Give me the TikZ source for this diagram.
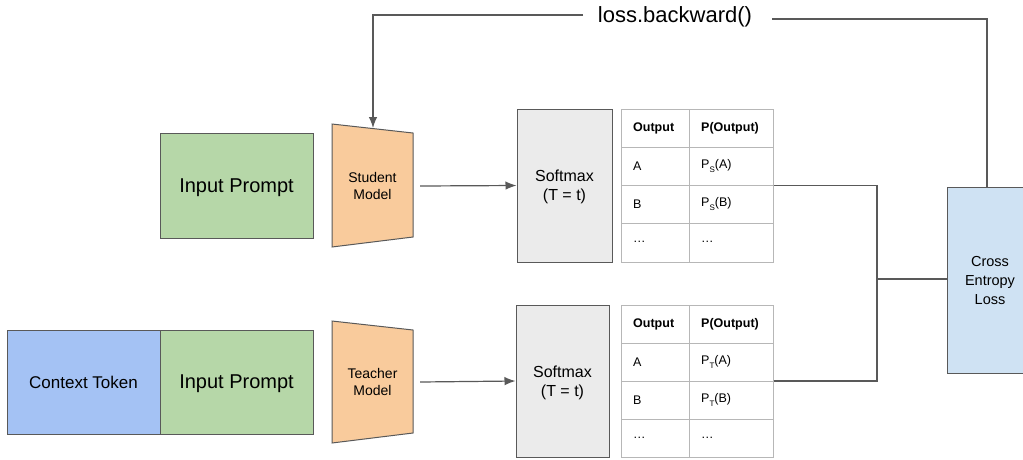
\documentclass[tikz,border=0pt]{standalone}
\usepackage{fontspec}
\setmainfont{Liberation Sans}
\usetikzlibrary{arrows.meta}
\definecolor{ipgreen}{HTML}{B6D7A8}
\definecolor{ctxblue}{HTML}{A4C2F4}
\definecolor{modorange}{HTML}{F9CB9C}
\definecolor{smgray}{HTML}{EBEBEB}
\definecolor{ceblue}{HTML}{CFE2F3}
\definecolor{edgegray}{HTML}{595959}
\definecolor{gridgray}{HTML}{B7B7B7}
\newcommand{\subsmall}[1]{\raisebox{-4pt}{\fontsize{8}{9}\selectfont #1}}
\begin{document}
\begin{tikzpicture}[x=1pt,y=-1pt,
  box/.style={draw=edgegray, line width=1pt, inner sep=0pt, align=center},
  bigtxt/.style={font=\fontsize{20}{24}\selectfont, text depth=0pt},
  midtxt/.style={font=\fontsize{16}{19}\selectfont},
  smalltxt/.style={font=\fontsize{14}{16.5}\selectfont},
  conn/.style={draw=edgegray, line width=1.2pt},
  arr/.style={conn, -{Latex[length=11pt,width=8.5pt]}},
  tablebox/.style={draw=gridgray, line width=1pt, inner sep=0pt},
  celltxt/.style={anchor=west, inner sep=0pt, font=\fontsize{12.5}{14}\selectfont},
  headtxt/.style={celltxt, font=\fontsize{12.5}{14}\selectfont\bfseries},
  trap/.style={draw=edgegray, line width=1pt, fill=modorange}
]
\clip (0,0) rectangle (1023,459);
\fill[white] (0,0) rectangle (1023,459);

% inputs
\node[box, bigtxt, fill=ipgreen, minimum width=153pt, minimum height=105pt] (ipS) at (236.5,185.5) {Input Prompt};
\node[box, fill=ctxblue, minimum width=153pt, minimum height=104pt, font=\fontsize{17}{20}\selectfont] (ctx) at (83.5,382) {Context Token};
\node[box, bigtxt, fill=ipgreen, minimum width=153pt, minimum height=104pt] (ipT) at (236.5,382) {Input Prompt};

% models (trapezoids)
\draw[trap] (332,124) -- (413,133) -- (413,237) -- (332,247) -- cycle;
\node[smalltxt, align=center, inner sep=0pt, minimum width=81pt, minimum height=104pt] (stud) at (372.5,186) {Student\\Model};
\draw[trap] (332,321) -- (413,330) -- (413,433) -- (332,443) -- cycle;
\node[smalltxt, align=center, inner sep=0pt, minimum width=81pt, minimum height=103pt] (teach) at (372.5,382) {Teacher\\Model};

% softmax
\node[box, midtxt, fill=smgray, minimum width=95pt, minimum height=153pt, text depth=0pt] (smS) at (564.5,185.5) {Softmax\\(T = t)};
\node[box, midtxt, fill=smgray, minimum width=93pt, minimum height=152pt, text depth=0pt] (smT) at (562.5,381) {Softmax\\(T = t)};

\draw[arr] ([xshift=7pt]stud.east) -- (smS.west);
\draw[arr] ([xshift=7pt]teach.east) -- (smT.west);

% student table
\node[tablebox, minimum width=152pt, minimum height=153pt] (tabS) at (697,185.5) {};
\draw[gridgray, line width=1pt] (689,109) -- (689,262) (621,147) -- (773,147) (621,185) -- (773,185) (621,223) -- (773,223);
\node[headtxt] (sh1) at (633,128) {Output};
\node[headtxt] (sh2) at (701,128) {P(Output)};
\node[celltxt] (sa1) at (633,166) {A};
\node[celltxt] (sa2) at (701,166) {P\subsmall{S}(A)};
\node[celltxt] (sb1) at (633,204) {B};
\node[celltxt] (sb2) at (701,204) {P\subsmall{S}(B)};
\node[celltxt] (sc1) at (633,242) {…};
\node[celltxt] (sc2) at (701,242) {…};

% teacher table
\node[tablebox, minimum width=152pt, minimum height=152pt] (tabT) at (697,381) {};
\draw[gridgray, line width=1pt] (689,305) -- (689,457) (621,343) -- (773,343) (621,381) -- (773,381) (621,419) -- (773,419);
\node[headtxt] (th1) at (633,324) {Output};
\node[headtxt] (th2) at (701,324) {P(Output)};
\node[celltxt] (ta1) at (633,362) {A};
\node[celltxt] (ta2) at (701,362) {P\subsmall{T}(A)};
\node[celltxt] (tb1) at (633,400) {B};
\node[celltxt] (tb2) at (701,400) {P\subsmall{T}(B)};
\node[celltxt] (tc1) at (633,438) {…};
\node[celltxt] (tc2) at (701,438) {…};

% cross entropy
\node[box, font=\fontsize{14.5}{19}\selectfont, fill=ceblue, minimum width=86pt, minimum height=186pt] (ce) at (990,280) {Cross\\Entropy\\Loss};

\coordinate (join) at (877,279);
\draw[conn] (tabS.east) -| (join);
\draw[conn] (tabT.east) -| (join);
\draw[conn] (join) -- (ce.west |- join);

% backward loop
\node[inner sep=0pt, font=\fontsize{22}{26}\selectfont] (loss) at (675,17) {loss.backward()};
\coordinate (lossL) at (583,15);
\coordinate (lossR) at (772,19);
\coordinate (studTop) at (373,128);
\draw[arr] (lossL) -| (studTop);
\draw[conn] (lossR) -| ([xshift=-3pt]ce.north);
\end{tikzpicture}
\end{document}
